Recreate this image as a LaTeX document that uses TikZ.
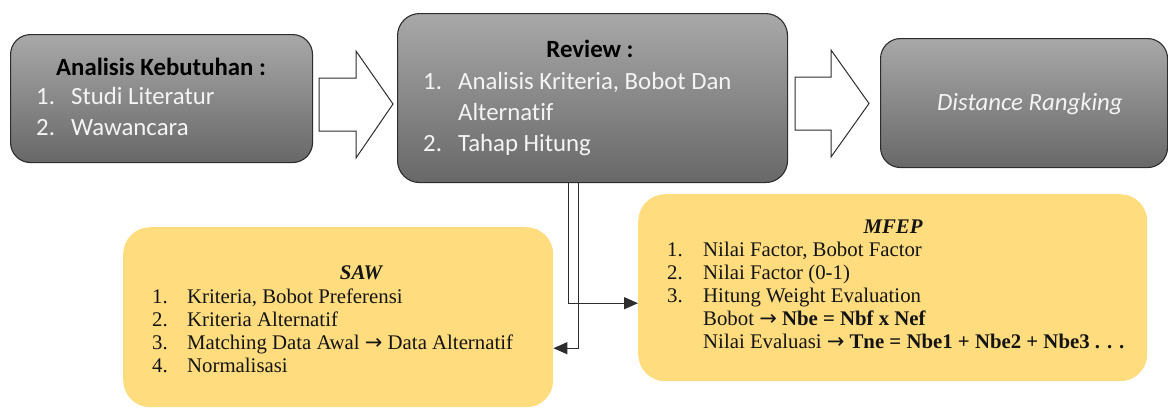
\documentclass[tikz,border=0pt]{standalone}
\usepackage{fontspec}
\setmainfont[Ligatures=NoCommon]{Carlito}
\newfontfamily\serifY{Liberation Serif}
\newfontfamily\arrowfont{DejaVu Sans}
\usetikzlibrary{arrows.meta,calc}
\definecolor{gtop}{RGB}{168,168,168}
\definecolor{gbot}{RGB}{104,104,104}
\definecolor{gline}{RGB}{45,45,45}
\definecolor{ybox}{RGB}{255,220,126}
\definecolor{ltext}{RGB}{244,244,244}
\definecolor{dtext}{RGB}{20,20,20}
\newcommand{\rarr}{{\arrowfont\fontsize{21}{23}\selectfont →}}
\tikzset{
  gbox/.style={draw=gline, line width=1.1pt, rounded corners=20pt, top color=gtop, bottom color=gbot, anchor=north west, inner sep=0pt},
  ybox/.style={fill=ybox, rounded corners=27pt, anchor=north west, inner sep=0pt},
  gtxt/.style={inner sep=0pt, anchor=base west, font=\fontsize{24.8}{30}\selectfont, text=ltext},
  gtitle/.style={inner sep=0pt, anchor=base, font=\bfseries\fontsize{24.8}{30}\selectfont, text=black},
  ytxt/.style={inner sep=0pt, anchor=base west, font=\serifY\fontsize{20.8}{23}\selectfont, text=dtext},
  ytitle/.style={inner sep=0pt, anchor=base, font=\serifY\bfseries\itshape\fontsize{20.8}{23}\selectfont, text=dtext},
  blockarrow/.style={draw=gline, line width=1pt, fill=white, line join=miter},
  conn/.style={draw=gline, line width=1.3pt, -{Triangle[length=14pt,width=12pt]}}
}
\begin{document}
\begin{tikzpicture}[x=1pt,y=-1pt]
\useasboundingbox (0,0) rectangle (1168,408);
% grey boxes
\node[gbox, minimum width=302pt, minimum height=128pt] (keb) at (10,34) {};
\node[gbox, minimum width=390pt, minimum height=169pt, rounded corners=22pt] (rev) at (397,13) {};
\node[gbox, minimum width=287pt, minimum height=129pt] (dist) at (880,38) {};
% yellow boxes
\node[ybox, minimum width=430pt, minimum height=180pt] (saw) at (123,227) {};
\node[ybox, minimum width=509pt, minimum height=187pt] (mfep) at (638,194) {};
% block arrows
\coordinate (a1) at (319,104);
\draw[blockarrow] (a1) ++(0,-26) -- ++(37,0) -- ++(0,-27) -- ++(37,53) -- ++(-37,54) -- ++(0,-27) -- ++(-37,0) -- cycle;
\coordinate (a2) at (795,103.5);
\draw[blockarrow] (a2) ++(0,-26.5) -- ++(36,0) -- ++(0,-27) -- ++(38,53.5) -- ++(-38,53.5) -- ++(0,-27) -- ++(-36,0) -- cycle;
% connectors
\draw[conn] ([xshift=-24pt]rev.south) |- ([yshift=-15.5pt]mfep.west);
\draw[conn] ([xshift=-14pt]rev.south) |- ([yshift=-31pt]saw.east);
% box 1 text
\node[gtitle] (kebT) at (161,75) {Analisis Kebutuhan :};
\node[gtxt] (kebN1) at (36,104) {1.};
\node[gtxt] (kebI1) at (71,104) {Studi Literatur};
\node[gtxt] (kebN2) at (36,135) {2.};
\node[gtxt] (kebI2) at (71,135) {Wawancara};
% box 2 text
\node[gtitle] (revT) at (590,57) {Review :};
\node[gtxt] (revN1) at (423,89) {1.};
\node[gtxt] (revI1) at (458,89) {Analisis Kriteria, Bobot Dan};
\node[gtxt] (revI1b) at (458,120) {Alternat\kern0pt if};
\node[gtxt] (revN2) at (423,151) {2.};
\node[gtxt] (revI2) at (458,151) {Tahap Hitung};
% box 3 text
\node[inner sep=0pt, anchor=base, font=\itshape\fontsize{24.8}{30}\selectfont, text=ltext] (distT) at (1030,110) {Distance Rangking};
% SAW text
\node[ytitle] (sawT) at (361,279) {SAW};
\node[ytxt] (sawN1) at (152,303) {1.};
\node[ytxt] (sawI1) at (187,303) {Kriteria, Bobot Preferensi};
\node[ytxt] (sawN2) at (152,326) {2.};
\node[ytxt] (sawI2) at (187,326) {Kriteria Alternatif};
\node[ytxt] (sawN3) at (152,349) {3.};
\node[ytxt] (sawI3) at (187,349) {Matching Data Awal \rarr{} Data Alternatif};
\node[ytxt] (sawN4) at (152,372) {4.};
\node[ytxt] (sawI4) at (187,372) {Normalisasi};
% MFEP text
\node[ytitle] (mfT) at (893,233) {MFEP};
\node[ytxt] (mfN1) at (667,256) {1.};
\node[ytxt] (mfI1) at (703,256) {Nilai Factor, Bobot Factor};
\node[ytxt] (mfN2) at (667,279) {2.};
\node[ytxt] (mfI2) at (703,279) {Nilai Factor (0-1)};
\node[ytxt] (mfN3) at (667,302) {3.};
\node[ytxt] (mfI3) at (703,302) {Hitung Weight Evaluation};
\node[ytxt] (mfI4) at (703,325) {Bobot \rarr{} \textbf{Nbe = Nbf x Nef}};
\node[ytxt] (mfI5) at (703,348) {Nilai Evaluasi \rarr{} \textbf{Tne = Nbe1 + Nbe2 + Nbe3 . . .}};
\end{tikzpicture}
\end{document}
